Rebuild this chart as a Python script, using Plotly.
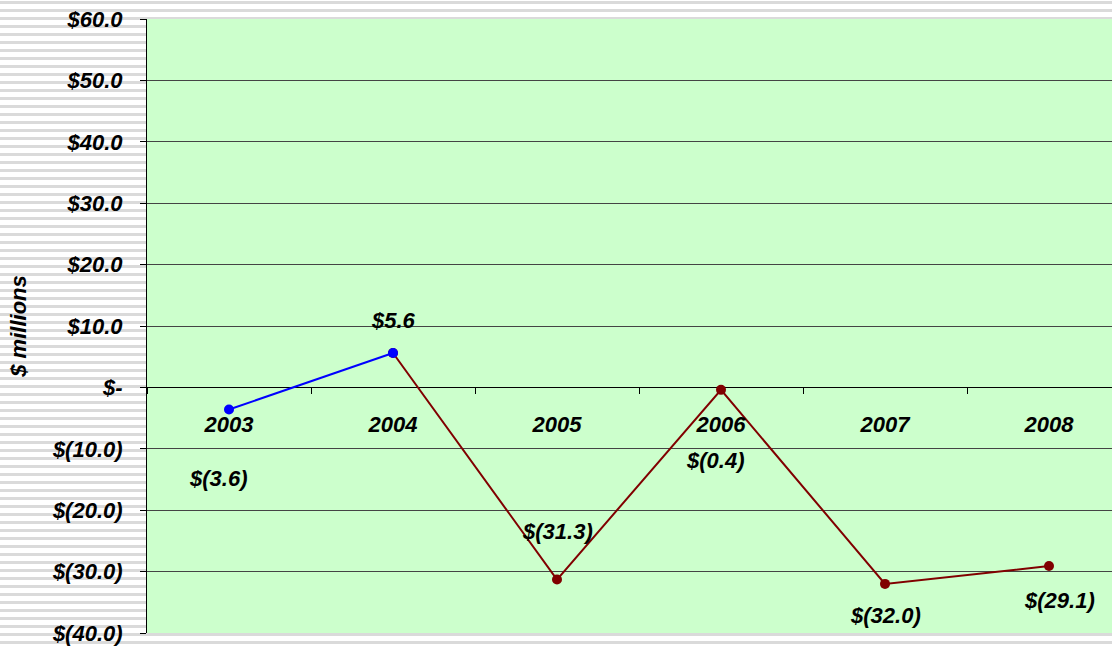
import plotly.graph_objects as go

years = ["2003", "2004", "2005", "2006", "2007", "2008"]
values = [-3.6, 5.6, -31.3, -0.4, -32.0, -29.1]
ytick_vals = [60, 50, 40, 30, 20, 10, 0, -10, -20, -30, -40]
ytick_text = ["$60.0", "$50.0", "$40.0", "$30.0", "$20.0", "$10.0", "$-",
              "$(10.0)", "$(20.0)", "$(30.0)", "$(40.0)"]
# label offsets (pixels) relative to each point
label_dx = [-11, 0, 0, -6, 0, 10]
label_dy = [-69, 33, 48, -71, -32, -34]


def fmt(v):
    return f"${v:.1f}" if v >= 0 else f"$({-v:.1f})"


W, H = 1112, 649
ML, MR, MT, MB = 147, 0, 19, 16
PW, PH = W - ML - MR, H - MT - MB

font = dict(family="Arial, Liberation Sans, sans-serif", size=22, color="black",
            weight="bold", style="italic")

fig = go.Figure()
fig.add_trace(go.Scatter(x=years[1:], y=values[1:], mode="lines+markers",
                         line=dict(color="#800000", width=2),
                         marker=dict(color="#800000", size=10),
                         showlegend=False, hoverinfo="skip"))
fig.add_trace(go.Scatter(x=years[:2], y=values[:2], mode="lines+markers",
                         line=dict(color="#0000ff", width=2),
                         marker=dict(color="#0000ff", size=10),
                         showlegend=False, hoverinfo="skip"))

annotations = []
for i, (v, dx, dy) in enumerate(zip(values, label_dx, label_dy)):
    annotations.append(dict(x=i, y=v, xref="x", yref="y", text=fmt(v),
                            showarrow=False, xshift=dx, yshift=dy, font=font))

# striped page background, then the plot-area fill on top of it
shapes = []
for k in range(0, 82):
    top = 1 + 8 * k
    y1 = (H - MB - top) / PH
    y0 = (H - MB - (top + 3)) / PH
    shapes.append(dict(type="rect", xref="paper", yref="paper",
                       x0=-ML / PW, x1=(W - ML) / PW + 0.01, y0=y0, y1=y1,
                       fillcolor="#dadada", line=dict(width=0), layer="below"))
shapes.append(dict(type="rect", xref="paper", yref="paper", x0=0, x1=1.02,
                   y0=0, y1=1, fillcolor="#ccffcc", line=dict(width=0),
                   layer="below"))

fig.update_layout(
    width=W, height=H,
    margin=dict(l=ML, r=MR, t=MT, b=MB, pad=0),
    paper_bgcolor="white",
    plot_bgcolor="rgba(0,0,0,0)",
    shapes=shapes,
    annotations=annotations,
    xaxis=dict(type="category", categoryorder="array", categoryarray=years,
               range=[-0.5, -0.5 + PW / 164.0], automargin=False,
               anchor="free", position=0.4, showgrid=False, zeroline=False,
               showline=False, ticks="outside", ticklen=6, tickcolor="black",
               tickson="boundaries", tickfont=font, ticklabelstandoff=22),
    yaxis=dict(range=[-40, 60], tickvals=ytick_vals, ticktext=ytick_text,
               automargin=False,
               tickfont=font, ticks="outside", ticklen=6, tickcolor="black",
               showline=True, linecolor="black", linewidth=1,
               showgrid=True, gridcolor="#444444", gridwidth=1,
               zeroline=True, zerolinecolor="black", zerolinewidth=1,
               ticklabelstandoff=13,
               title=dict(text="$ millions", standoff=19,
                          font=dict(family="Arial, Liberation Sans, sans-serif",
                                    size=22, color="black", weight="bold",
                                    style="italic"))),
)

fig.write_html("out.html",
               config={"displayModeBar": False},
               post_script="document.body.style.margin='0';"
                           "document.body.style.overflow='hidden';")
